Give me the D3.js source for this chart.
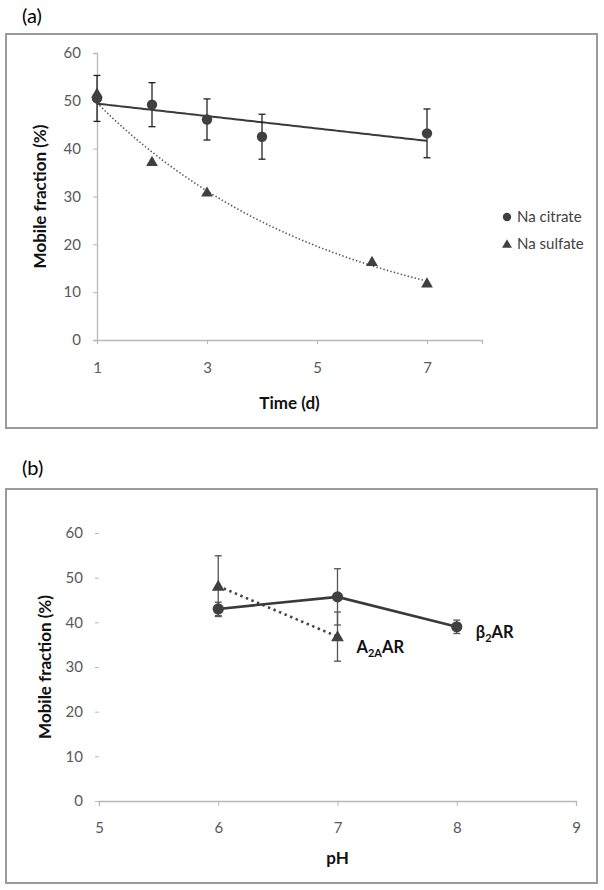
<!DOCTYPE html>
<html><head><meta charset="utf-8">
<script src="https://cdnjs.cloudflare.com/ajax/libs/d3/7.8.5/d3.min.js"></script>
<style>body{margin:0;background:#fff}svg{display:block}text{font-family:Lato,"Open Sans",sans-serif}</style>
</head><body>
<svg id="c" width="604" height="890"></svg>
<script>
// ---- data ----
const days = [1, 2, 3, 4, 7];
const citrate = [50.5, 49.2, 46.1, 42.5, 43.2];
const citrateErr = [4.8, 4.6, 4.3, 4.7, 5.1];
const sulfateDays = [1, 2, 3, 6, 7];
const sulfate = [51.6, 37.3, 30.9, 16.4, 11.9];
const timeTicks = [1, 3, 5, 7];
const yTicks = [0, 10, 20, 30, 40, 50, 60];
const legendLabels = ["Na citrate", "Na sulfate"];

const phB2 = [6, 7, 8];
const b2 = [43.0, 45.7, 39.0];
const b2Err = [1.5, 6.3, 1.5];
const phA2a = [6, 7];
const a2a = [48.1, 36.8];
const a2aErr = [6.8, 5.5];
const phTicks = [5, 6, 7, 8, 9];

const svg = d3.select("#c");
const dark = "#404040", tickCol = "#595959", axisCol = "#b8b8b8";

// frames
function frame(y0, y1) {
  svg.append("rect").attr("x", 6).attr("y", y0).attr("width", 591).attr("height", y1 - y0)
    .attr("fill", "none").attr("stroke", "#9a9a9a").attr("stroke-width", 2);
}
frame(34, 428);
frame(489, 883);

svg.append("text").attr("x", 22).attr("y", 23).attr("font-size", 20).attr("fill", "#000").text("(a)");
svg.append("text").attr("x", 22).attr("y", 475).attr("font-size", 20).attr("fill", "#000").text("(b)");

const triangle = d3.symbol().type(d3.symbolTriangle);
const circle = d3.symbol().type(d3.symbolCircle);

// ---------- panel (a) ----------
const xa = d3.scaleLinear().domain([1, 8]).range([97, 482]);
const ya = d3.scaleLinear().domain([0, 60]).range([340, 53]);
const ga = svg.append("g");

const yAxA = ga.append("g").attr("transform", `translate(${xa(1)},0)`)
  .call(d3.axisLeft(ya).tickValues(yTicks).tickSize(4).tickPadding(12).tickFormat(d3.format("d")));
const xAxA = ga.append("g").attr("transform", `translate(0,${ya(0)})`)
  .call(d3.axisBottom(xa).tickValues(timeTicks).tickSize(4).tickPadding(18).tickFormat(d3.format("d")));
[yAxA, xAxA].forEach(a => {
  a.select(".domain").attr("stroke", axisCol).attr("stroke-width", 1.3);
  a.selectAll(".tick line").attr("stroke", axisCol);
  a.selectAll(".tick text").attr("fill", tickCol).attr("font-size", 15).style("font-family", "Lato,'Open Sans',sans-serif");
});
xAxA.select(".tick line").attr("stroke", "none");

ga.append("text").attr("x", (xa(1) + xa(8)) / 2).attr("y", 409).attr("text-anchor", "middle")
  .attr("font-size", 17).attr("font-weight", "bold").attr("fill", "#111").text("Time (d)");
ga.append("text").attr("transform", `translate(46,${(ya(0) + ya(60)) / 2}) rotate(-90)`)
  .attr("text-anchor", "middle").attr("font-size", 17).attr("font-weight", "bold").attr("fill", "#111")
  .text("Mobile fraction (%)");

// linear trend (citrate)
const mx = d3.mean(days), my = d3.mean(citrate);
const slope = d3.sum(days, (d, i) => (d - mx) * (citrate[i] - my)) / d3.sum(days, d => (d - mx) ** 2);
const icpt = my - slope * mx;
const xs = d3.range(1, 7.001, 0.05);
ga.append("path").attr("d", d3.line().x(d => xa(d)).y(d => ya(icpt + slope * d))(xs))
  .attr("fill", "none").attr("stroke", "#3a3a3a").attr("stroke-width", 2);

// exponential trend (sulfate)
const ls = sulfate.map(Math.log);
const mx2 = d3.mean(sulfateDays), ml = d3.mean(ls);
const b = d3.sum(sulfateDays, (d, i) => (d - mx2) * (ls[i] - ml)) / d3.sum(sulfateDays, d => (d - mx2) ** 2);
const lnA = ml - b * mx2;
ga.append("path").attr("d", d3.line().x(d => xa(d)).y(d => ya(Math.exp(lnA + b * d)))(xs))
  .attr("fill", "none").attr("stroke", "#555").attr("stroke-width", 1.6)
  .attr("stroke-dasharray", "1.4,2.2");

// error bars citrate
days.forEach((d, i) => {
  const x = xa(d), y1 = ya(citrate[i] + citrateErr[i]), y2 = ya(citrate[i] - citrateErr[i]);
  ga.append("line").attr("x1", x).attr("x2", x).attr("y1", y1).attr("y2", y2).attr("stroke", "#222").attr("stroke-width", 1.3);
  [y1, y2].forEach(y => ga.append("line").attr("x1", x - 3.5).attr("x2", x + 3.5).attr("y1", y).attr("y2", y).attr("stroke", "#222").attr("stroke-width", 1.3));
});
// markers
ga.selectAll(".sul").data(sulfateDays).join("path")
  .attr("transform", (d, i) => `translate(${xa(d)},${ya(sulfate[i]) + 1})`)
  .attr("d", triangle.size(60)).attr("fill", dark);
ga.selectAll(".cit").data(days).join("path")
  .attr("transform", (d, i) => `translate(${xa(d)},${ya(citrate[i])})`)
  .attr("d", circle.size(85)).attr("fill", dark);

// legend
const lg = ga.append("g");
legendLabels.forEach((t, i) => {
  const y = 217 + i * 27;
  lg.append("path").attr("transform", `translate(507,${i ? y + 1 : y})`)
    .attr("d", (i ? triangle.size(42) : circle.size(55))()).attr("fill", dark);
  lg.append("text").attr("x", 517).attr("y", y + 5).attr("font-size", 15).attr("fill", "#404040").text(t);
});

// ---------- panel (b) ----------
const xb = d3.scaleLinear().domain([5, 9]).range([99, 576]);
const yb = d3.scaleLinear().domain([0, 60]).range([801, 533]);
const gb = svg.append("g");

const yAxB = gb.append("g").attr("transform", `translate(${xb(5)},0)`)
  .call(d3.axisLeft(yb).tickValues(yTicks).tickSize(4).tickPadding(12).tickFormat(d3.format("d")));
yAxB.select(".domain").remove();
const xAxB = gb.append("g").attr("transform", `translate(0,${yb(0)})`)
  .call(d3.axisBottom(xb).tickValues(phTicks).tickSize(5).tickPadding(16).tickFormat(d3.format("d")));
xAxB.select(".domain").attr("stroke", axisCol).attr("stroke-width", 1.3);
[yAxB, xAxB].forEach(a => {
  a.selectAll(".tick line").attr("stroke", axisCol);
  a.selectAll(".tick text").attr("fill", tickCol).attr("font-size", 15).style("font-family", "Lato,'Open Sans',sans-serif");
});

gb.append("text").attr("x", xb(7)).attr("y", 864).attr("text-anchor", "middle")
  .attr("font-size", 17).attr("font-weight", "bold").attr("fill", "#111").text("pH");
gb.append("text").attr("transform", `translate(51,${(yb(0) + yb(60)) / 2}) rotate(-90)`)
  .attr("text-anchor", "middle").attr("font-size", 17).attr("font-weight", "bold").attr("fill", "#111")
  .text("Mobile fraction (%)");

function errBars(g, xsArr, vals, errs, col) {
  xsArr.forEach((d, i) => {
    const x = xb(d), y1 = yb(vals[i] + errs[i]), y2 = yb(vals[i] - errs[i]);
    g.append("line").attr("x1", x).attr("x2", x).attr("y1", y1).attr("y2", y2).attr("stroke", col).attr("stroke-width", 1.3);
    [y1, y2].forEach(y => g.append("line").attr("x1", x - 3.5).attr("x2", x + 3.5).attr("y1", y).attr("y2", y).attr("stroke", col).attr("stroke-width", 1.3));
  });
}
errBars(gb, phA2a, a2a, a2aErr, "#555");
errBars(gb, phB2, b2, b2Err, "#555");

gb.append("path").attr("d", d3.line().x(d => xb(d)).y((d, i) => yb(a2a[i]))(phA2a))
  .attr("fill", "none").attr("stroke", "#444").attr("stroke-width", 2.6)
  .attr("stroke-dasharray", "2.4,3.6");
gb.append("path").attr("d", d3.line().x(d => xb(d)).y((d, i) => yb(b2[i]))(phB2))
  .attr("fill", "none").attr("stroke", "#3a3a3a").attr("stroke-width", 2.6);

gb.selectAll(".a2").data(phA2a).join("path")
  .attr("transform", (d, i) => `translate(${xb(d)},${yb(a2a[i]) + 1})`)
  .attr("d", triangle.size(70)).attr("fill", dark);
gb.selectAll(".b2").data(phB2).join("path")
  .attr("transform", (d, i) => `translate(${xb(d)},${yb(b2[i])})`)
  .attr("d", circle.size(100)).attr("fill", dark);

// series labels
const lb = gb.append("text").attr("x", xb(8) + 19).attr("y", yb(b2[2]) + 11)
  .attr("font-size", 16.5).attr("font-weight", "bold").attr("fill", "#111");
lb.append("tspan").text("β");
lb.append("tspan").attr("font-size", 11).attr("dy", 4).text("2");
lb.append("tspan").attr("dy", -4).text("AR");
const la = gb.append("text").attr("x", xb(7) + 19).attr("y", yb(a2a[1]) + 16)
  .attr("font-size", 16.5).attr("font-weight", "bold").attr("fill", "#111");
la.append("tspan").text("A");
la.append("tspan").attr("font-size", 11).attr("dy", 4).text("2A");
la.append("tspan").attr("dy", -4).text("AR");
</script>
</body></html>
